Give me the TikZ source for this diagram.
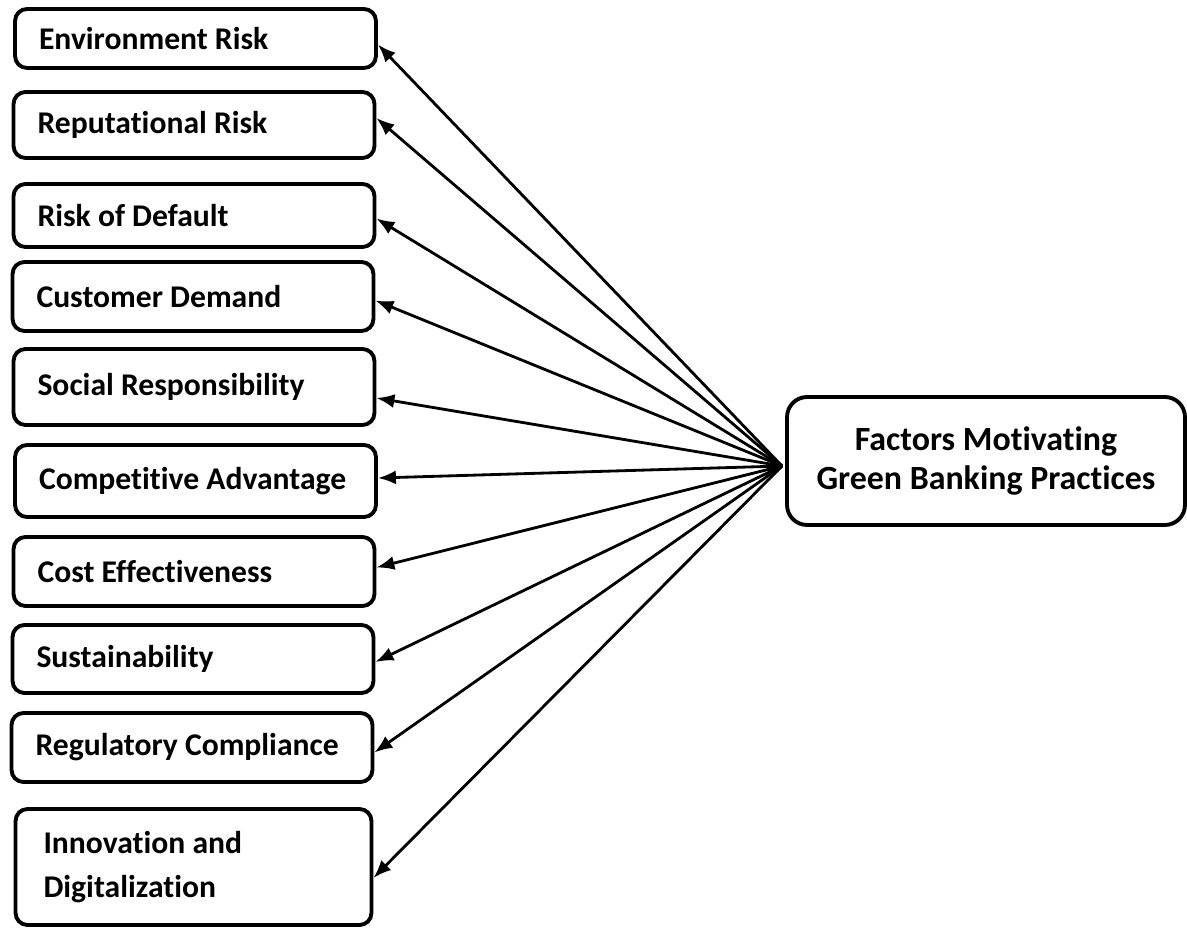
\documentclass[tikz,border=0pt]{standalone}
\usepackage{fontspec}
\setmainfont{Carlito}[Ligatures=NoCommon]
\usetikzlibrary{arrows.meta}
\begin{document}
\begin{tikzpicture}[x=0.02cm, y=-0.02cm,
	factor/.style={shape=rectangle, draw, rounded corners=0.24cm, line width=2.2pt, text width=6.26cm, inner xsep=0.48cm, align=flush left, font=\fontsize{18}{21.5}\selectfont\bfseries},
	wire/.style={line width=1.6pt, -{Latex[length=0.36cm, width=0.28cm]}}]
	\useasboundingbox (0, 0) rectangle (1187, 928);
	% Factor boxes:
	\node[factor, minimum height=1.18cm] (env) at (195.5, 38.5){Environment Risk};
	\node[factor, minimum height=1.32cm] (rep) at (194, 125){Reputational Risk};
	\node[factor, minimum height=1.26cm] (dft) at (194, 215.5){Risk of Default};
	\node[factor, minimum height=1.38cm] (cus) at (193, 296.5){Customer Demand};
	\node[factor, minimum height=1.52cm] (soc) at (194, 387){Social Responsibility};
	\node[factor, minimum height=1.44cm] (cmp) at (195.5, 481){Competitive Advantage};
	\node[factor, minimum height=1.38cm] (cst) at (194, 571.5){Cost Effectiveness};
	\node[factor, minimum height=1.36cm] (sus) at (193, 659){Sustainability};
	\node[factor, minimum height=1.38cm] (reg) at (192, 747.5){Regulatory Compliance};
	\node[factor, minimum height=2.32cm, text width=6cm, inner xsep=0.56cm, font=\fontsize{18}{25.5}\selectfont\bfseries] (inno) at (193.5, 867){Innovation and\\Digitalization};
	% Main box:
	\node[shape=rectangle, draw, rounded corners=0.4cm, line width=2.2pt, minimum width=7.96cm, minimum height=2.56cm, align=center, font=\fontsize{19.3}{22.5}\selectfont\bfseries] (fac) at (986, 461){Factors Motivating\\Green Banking Practices};
	\coordinate (hub) at (782, 466);
	% Arrows:
	\draw[wire] (hub) -- ([yshift=-0.12cm]env.east);
	\draw[wire] (hub) -- ([yshift=0.14cm]rep.east);
	\draw[wire] (hub) -- ([yshift=-0.06cm]dft.east);
	\draw[wire] (hub) -- ([yshift=-0.08cm]cus.east);
	\draw[wire] (hub) -- ([yshift=-0.22cm]soc.east);
	\draw[wire] (hub) -- ([yshift=0.06cm]cmp.east);
	\draw[wire] (hub) -- ([yshift=0.08cm]cst.east);
	\draw[wire] (hub) -- ([yshift=-0.06cm]sus.east);
	\draw[wire] (hub) -- ([yshift=-0.1cm]reg.east);
	\draw[wire] (hub) -- ([yshift=-0.22cm]inno.east);
\end{tikzpicture}
\end{document}
